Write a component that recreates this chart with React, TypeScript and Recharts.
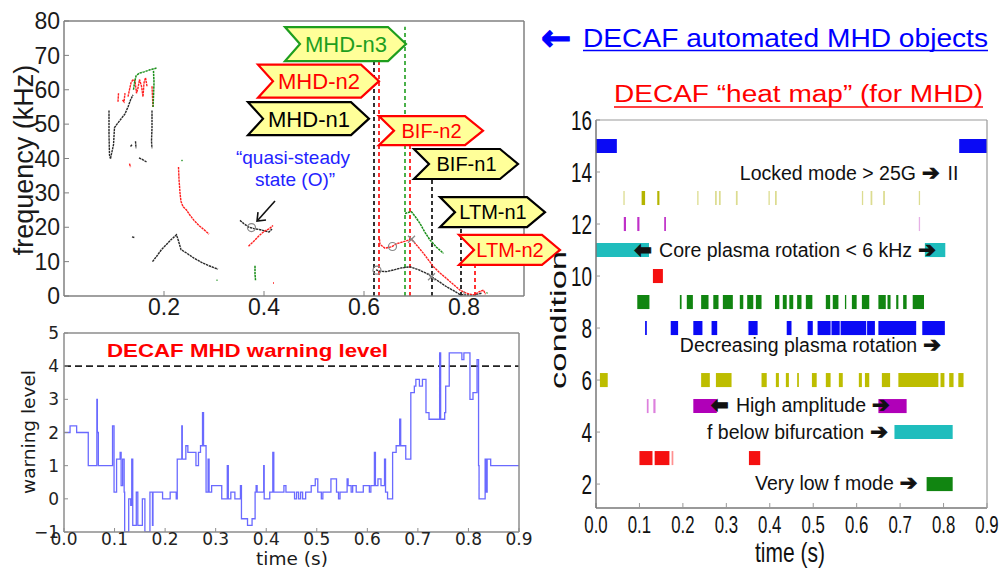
import React from 'react';
import {
  ComposedChart,
  LineChart,
  Line,
  XAxis,
  YAxis,
  ReferenceLine,
  ReferenceDot,
  ReferenceArea,
} from 'recharts';

type Pt = [number, number];
type Seg = [number, number];

/* ---------------- Top-left: automated MHD objects (time s, frequency kHz) ---------------- */
const blackTraces: Pt[][] = [
  [[0.090, 54], [0.090, 47], [0.091, 41], [0.093, 40]],
  [[0.093, 40], [0.096, 42], [0.099, 44], [0.101, 49], [0.106, 50], [0.114, 51.5], [0.122, 53], [0.128, 55], [0.133, 57], [0.138, 58.5]],
  [[0.176, 54], [0.176, 49], [0.175, 45], [0.176, 43]],
  [[0.133, 43.5], [0.136, 44]],
  [[0.143, 45], [0.144, 43]],
  [[0.150, 40.2], [0.158, 39.6], [0.165, 39]],
  [[0.136, 17.2], [0.141, 17]],
  [[0.177, 10], [0.185, 11.5], [0.195, 13.5], [0.205, 15], [0.215, 16.5], [0.225, 17.8], [0.229, 16], [0.234, 13.5], [0.245, 12.5], [0.26, 11], [0.275, 9.8], [0.29, 8.8], [0.308, 7.8]],
  [[0.352, 22], [0.36, 21], [0.37, 20], [0.38, 19.6], [0.395, 19.2], [0.41, 18.6], [0.416, 19.5]],
  [[0.624, 7.6], [0.632, 7.2], [0.645, 7.1], [0.66, 7.6], [0.672, 8.1], [0.692, 8.5], [0.71, 7.6], [0.725, 6.6], [0.735, 5.6], [0.75, 4.2], [0.765, 2.7], [0.78, 1.5], [0.792, 0.4], [0.805, 0.3], [0.819, 0.3], [0.835, 0.8]],
];
const redTraces: Pt[][] = [
  [[0.108, 56.5], [0.109, 59]],
  [[0.117, 57], [0.12, 56.5], [0.122, 59]],
  [[0.128, 58], [0.131, 60], [0.134, 62], [0.138, 63], [0.142, 62.5], [0.145, 59], [0.148, 60.5], [0.151, 63], [0.155, 61], [0.158, 58], [0.16, 62], [0.163, 63.5], [0.166, 61]],
  [[0.176, 61], [0.177, 58], [0.178, 55]],
  [[0.131, 38.5], [0.133, 37.5]],
  [[0.229, 37.5], [0.230, 34], [0.232, 30], [0.234, 27.5], [0.238, 26], [0.245, 25], [0.252, 23.5], [0.26, 22], [0.27, 20.5], [0.28, 19.3], [0.29, 18]],
  [[0.369, 14.5], [0.38, 16], [0.39, 17.5], [0.40, 18.8], [0.41, 19.5], [0.418, 20.5]],
  [[0.418, 3.8], [0.420, 3.8]],
  [[0.631, 16.5], [0.632, 15], [0.642, 13.9], [0.655, 14.3], [0.665, 15.2], [0.679, 15.8], [0.695, 16.5], [0.707, 14.5], [0.719, 12.4], [0.739, 8.5], [0.752, 6.7], [0.765, 5.1], [0.78, 3.2], [0.792, 1.7], [0.805, 0.8], [0.819, 0.3], [0.83, 1.2], [0.839, 1.7], [0.843, 0.5]],
];
const greenTraces: Pt[][] = [
  [[0.139, 60], [0.141, 62], [0.144, 64], [0.15, 64.8], [0.16, 65.2], [0.172, 65.8], [0.185, 66.3]],
  [[0.179, 65.5], [0.18, 62], [0.179, 58], [0.178, 55]],
  [[0.235, 39.3], [0.237, 39.5]],
  [[0.305, 4.6], [0.307, 4.6]],
  [[0.382, 8.8], [0.382, 6.5], [0.383, 4.6]],
  [[0.682, 24], [0.688, 24.3], [0.695, 24.5], [0.703, 23], [0.712, 21.1], [0.722, 18.5], [0.732, 16.3], [0.745, 14.2], [0.759, 12.4]],
  [[0.845, 0.8], [0.847, 1]],
];
const circleMarks: Pt[] = [[0.375, 19.9], [0.626, 7.5], [0.657, 14.4]];
const crossMarks: Pt[] = [[0.695, 16.5], [0.735, 5.6]];
const freqTicks = [0, 10, 20, 30, 40, 50, 60, 70, 80];
const topTimeTicks = [0.2, 0.4, 0.6, 0.8];

// object tags: left notch point (time, freq)
const tagLabels = ['MHD-n3', 'MHD-n2', 'MHD-n1', 'BIF-n2', 'BIF-n1', 'LTM-n1', 'LTM-n2'];
const tagColors = ['#1e9e1e', '#ff0000', '#000000', '#ff0000', '#000000', '#000000', '#ff0000'];
const tagTimes = [0.442, 0.388, 0.368, 0.630, 0.700, 0.752, 0.790];
const tagFreqs = [73.3, 62.5, 51.6, 48.1, 38.4, 24.4, 13.4];
const tagWidths = [121, 121, 121, 104, 104, 105, 101];
const tagHeights = [34, 33, 33, 29, 30, 30, 30];
const tagFont = [22, 22, 22, 20, 20, 20, 20];

// dashed object start lines: time, top frequency, colour
const objLineTimes = [0.620, 0.630, 0.682, 0.692, 0.736, 0.794, 0.822];
const objLineTops = [68.4, 68.4, 78.3, 43.9, 34.0, 20.0, 9.0];
const objLineColors = ['#000000', '#ff0000', '#1e9e1e', '#ff0000', '#000000', '#000000', '#ff0000'];

/* ---------------- Bottom-left: DECAF MHD warning level ---------------- */
const warningSteps: Pt[] = [
  [0, 2.0], [0.012, 2.2], [0.025, 2.0], [0.048, 1.0], [0.065, 3.0], [0.066, 2.0], [0.068, 1.0], [0.096, 2.2], [0.099, 0.2], [0.104, 1.2],
  [0.111, 1.4], [0.113, 0.4], [0.116, 1.2], [0.119, 0.2], [0.120, -1.0], [0.128, 0.0], [0.132, -0.2], [0.134, 1.2], [0.136, -0.8], [0.143, 0.2],
  [0.146, -0.8], [0.155, 0.0], [0.160, -1.0], [0.170, 0.2], [0.175, -0.8], [0.176, 0.2], [0.195, 0.0], [0.210, 0.2], [0.222, 0.0], [0.224, 1.2],
  [0.233, 2.2], [0.234, 1.2], [0.241, 1.6], [0.245, 1.4], [0.261, 1.0], [0.266, 1.4], [0.270, 1.6], [0.274, 2.6], [0.276, 1.6], [0.281, 0.2],
  [0.285, 1.2], [0.287, 0.2], [0.292, 0.4], [0.312, 0.0], [0.323, 1.0], [0.325, 0.0], [0.330, 0.2], [0.338, 0.0], [0.349, 0.4], [0.351, -0.6],
  [0.363, -0.8], [0.372, -0.6], [0.378, 0.2], [0.380, 0.4], [0.382, 0.2], [0.395, 1.0], [0.396, 0.0], [0.407, 0.2], [0.413, 1.4], [0.415, 0.2],
  [0.435, 0.4], [0.439, 0.2], [0.456, 0.0], [0.460, 0.2], [0.464, 0.0], [0.468, 0.2], [0.472, 0.0], [0.478, 0.2], [0.489, 0.4], [0.497, 0.6],
  [0.502, 0.2], [0.509, 0.0], [0.512, 0.2], [0.528, 0.6], [0.539, 0.2], [0.543, 0.0], [0.546, 0.2], [0.560, 0.6], [0.562, 0.4], [0.568, 0.2],
  [0.571, 0.4], [0.578, 0.2], [0.592, 0.4], [0.604, 0.2], [0.607, 0.4], [0.614, 1.4], [0.616, 0.4], [0.621, 0.6], [0.627, 0.4], [0.634, 1.2],
  [0.636, 0.2], [0.640, 0.0], [0.650, 1.4], [0.657, 1.6], [0.664, 2.4], [0.666, 1.6], [0.676, 1.2], [0.686, 3.2], [0.693, 3.4], [0.696, 3.6],
  [0.703, 3.4], [0.709, 3.6], [0.716, 2.6], [0.722, 2.4], [0.743, 4.4], [0.745, 2.4], [0.753, 2.6], [0.755, 3.4], [0.762, 4.4], [0.787, 4.2],
  [0.791, 4.4], [0.803, 3.0], [0.809, 3.2], [0.817, 4.2], [0.820, 1.0], [0.821, 0.0], [0.833, 1.2], [0.835, 0.2], [0.837, 1.2], [0.844, 1.0],
  [0.9, 1.0],
];
const warningTicks = [-1, 0, 1, 2, 3, 4, 5];
const timeTicks = [0, 0.1, 0.2, 0.3, 0.4, 0.5, 0.6, 0.7, 0.8, 0.9];
const warningThreshold = 4;

/* ---------------- Right: DECAF heat map (time intervals per condition) ---------------- */
const cond15: Seg[] = [[0, 0.048], [0.836, 0.9]];
const cond13Dark: Seg[] = [[0.105, 0.113], [0.141, 0.146]];
const cond13Pale: Seg[] = [[0.063, 0.066], [0.233, 0.236], [0.274, 0.278], [0.283, 0.287], [0.322, 0.326], [0.397, 0.400], [0.412, 0.416], [0.612, 0.615], [0.632, 0.636], [0.661, 0.665], [0.743, 0.746]];
const cond12: Seg[] = [[0.064, 0.069], [0.095, 0.100], [0.157, 0.161]];
const cond12Pale: Seg[] = [[0.743, 0.746]];
const cond11: Seg[] = [[0, 0.122], [0.757, 0.804]];
const cond10: Seg[] = [[0.131, 0.154]];
const cond9: Seg[] = [[0.095, 0.123], [0.193, 0.197], [0.209, 0.223], [0.242, 0.259], [0.270, 0.282], [0.292, 0.315], [0.331, 0.339], [0.348, 0.362], [0.368, 0.381], [0.412, 0.422], [0.430, 0.439], [0.445, 0.454], [0.463, 0.473], [0.483, 0.498], [0.529, 0.539], [0.545, 0.558], [0.573, 0.576], [0.589, 0.600], [0.612, 0.629], [0.650, 0.667], [0.671, 0.678], [0.691, 0.696], [0.707, 0.715], [0.729, 0.755]];
const cond8: Seg[] = [[0.113, 0.117], [0.172, 0.189], [0.224, 0.245], [0.266, 0.279], [0.351, 0.372], [0.439, 0.450], [0.487, 0.499], [0.510, 0.540], [0.542, 0.561], [0.563, 0.622], [0.624, 0.642], [0.650, 0.737], [0.751, 0.803]];
const cond6: Seg[] = [[0.009, 0.027], [0.242, 0.262], [0.276, 0.312], [0.381, 0.393], [0.414, 0.421], [0.437, 0.444], [0.463, 0.467], [0.497, 0.508], [0.529, 0.540], [0.559, 0.568], [0.605, 0.612], [0.619, 0.629], [0.658, 0.677], [0.696, 0.788], [0.793, 0.802], [0.813, 0.823], [0.834, 0.846]];
const cond5: Seg[] = [[0.224, 0.278], [0.650, 0.715]];
const cond5Pale: Seg[] = [[0.117, 0.121], [0.132, 0.137]];
const cond4: Seg[] = [[0.687, 0.821]];
const cond3: Seg[] = [[0.100, 0.130], [0.135, 0.169], [0.352, 0.378]];
const cond3Pale: Seg[] = [[0.174, 0.178]];
const cond2: Seg[] = [[0.761, 0.821]];
const condTicks = [2, 4, 6, 8, 10, 12, 14, 16];

const heatTable: { row: number; color: string; segs: Seg[] }[] = [
  { row: 15, color: '#0a0af5', segs: cond15 },
  { row: 13, color: '#dcdc90', segs: cond13Pale },
  { row: 13, color: '#b4b400', segs: cond13Dark },
  { row: 12, color: '#c030c8', segs: cond12 },
  { row: 12, color: '#e6b0e6', segs: cond12Pale },
  { row: 11, color: '#1fbdbd', segs: cond11 },
  { row: 10, color: '#f51010', segs: cond10 },
  { row: 9, color: '#118511', segs: cond9 },
  { row: 8, color: '#0a0af5', segs: cond8 },
  { row: 6, color: '#bdbd00', segs: cond6 },
  { row: 5, color: '#b000b8', segs: cond5 },
  { row: 5, color: '#dd80dd', segs: cond5Pale },
  { row: 4, color: '#1fbdbd', segs: cond4 },
  { row: 3, color: '#f51010', segs: cond3 },
  { row: 3, color: '#ff9090', segs: cond3Pale },
  { row: 2, color: '#118511', segs: cond2 },
];

const noteTexts = ['Locked mode > 25G', 'Core plasma rotation < 6 kHz', 'Decreasing plasma rotation', 'High amplitude', 'f below bifurcation', 'Very low f mode'];
const noteTimes = [0.331, 0.143, 0.193, 0.320, 0.2555, 0.366];
const noteRows = [13.96, 11.0, 7.35, 5.04, 4.0, 2.04];
const noteLeftArrow = [false, true, false, true, false, false];
const noteTail = ['II', '', '', '', '', ''];

const SANS = 'Liberation Sans, Arial, Helvetica, sans-serif';
const DJV = 'DejaVu Sans, Verdana, sans-serif';

const toObj = (pts: Pt[]) => pts.map(([t, v]) => ({ t, v }));

function Tag({ cx, cy, i }: { cx: number; cy: number; i: number }) {
  const w = tagWidths[i];
  const h = tagHeights[i];
  const notch = 15;
  const tip = 18;
  const y0 = cy - h / 2;
  const y1 = cy + h / 2;
  const pts = `${cx},${y0} ${cx + w - tip},${y0} ${cx + w},${cy} ${cx + w - tip},${y1} ${cx},${y1} ${cx + notch},${cy}`;
  return (
    <g>
      <polygon points={pts} fill="#ffff99" stroke={tagColors[i]} strokeWidth={2.2} />
      <text x={cx + (w + notch) / 2 - 7} y={cy} dy="0.36em" textAnchor="middle" fontSize={tagFont[i]} fill={tagColors[i]} fontFamily={SANS}>
        {tagLabels[i]}
      </text>
    </g>
  );
}

function TopLeft() {
  const axisStroke = { stroke: '#808080', strokeWidth: 1.5 };
  const dash = '2.4 0.7';
  return (
    <ComposedChart width={580} height={330} margin={{ top: 0, right: 40, bottom: 0, left: 0 }}>
      <XAxis type="number" dataKey="t" domain={[0, 0.92]} ticks={topTimeTicks} allowDataOverflow height={34}
        tickSize={-5} tickMargin={8} axisLine={axisStroke} tickLine={{ stroke: '#808080' }}
        tick={{ fontSize: 23, fill: '#1a1a1a', fontFamily: SANS }} tickFormatter={(v: number) => v.toFixed(1)} />
      <XAxis xAxisId="top" orientation="top" type="number" domain={[0, 0.92]} ticks={[0.1, 0.2, 0.3, 0.4, 0.5, 0.6, 0.7, 0.8, 0.9]} allowDataOverflow height={21}
        tickSize={-4} tick={false} axisLine={axisStroke} tickLine={{ stroke: '#808080' }} />
      <YAxis type="number" domain={[0, 80]} ticks={freqTicks} allowDataOverflow width={64}
        tickSize={-5} tickMargin={9} axisLine={axisStroke} tickLine={{ stroke: '#808080' }}
        tick={{ fontSize: 23, fill: '#1a1a1a', fontFamily: SANS }} />
      <YAxis yAxisId="right" orientation="right" type="number" domain={[0, 80]} ticks={freqTicks} allowDataOverflow width={16}
        tickSize={-4} tick={false} axisLine={axisStroke} tickLine={{ stroke: '#808080' }} />
      {objLineTimes.map((t, i) => (
        <ReferenceLine key={'ol' + i} segment={[{ x: t, y: 0 }, { x: t, y: objLineTops[i] }]} stroke={objLineColors[i]} strokeWidth={1.6} strokeDasharray="4 3" />
      ))}
      {blackTraces.map((s, i) => (
        <Line key={'b' + i} data={toObj(s)} dataKey="v" type="linear" stroke="#2a2a2a" strokeWidth={1.4} strokeDasharray={dash} dot={false} isAnimationActive={false} />
      ))}
      {redTraces.map((s, i) => (
        <Line key={'r' + i} data={toObj(s)} dataKey="v" type="linear" stroke="#ff2020" strokeWidth={1.4} strokeDasharray={dash} dot={false} isAnimationActive={false} />
      ))}
      {greenTraces.map((s, i) => (
        <Line key={'g' + i} data={toObj(s)} dataKey="v" type="linear" stroke="#1a8f1a" strokeWidth={1.5} strokeDasharray={dash} dot={false} isAnimationActive={false} />
      ))}
      {circleMarks.map(([t, f], i) => (
        <ReferenceDot key={'c' + i} x={t} y={f} r={4} fill="none" stroke="#888" strokeWidth={1.2} />
      ))}
      {crossMarks.map(([t, f], i) => (
        <ReferenceDot key={'x' + i} x={t} y={f} r={3}
          shape={(p: any) => (
            <g stroke="#888" strokeWidth={1.2}>
              <line x1={p.cx - 3.5} y1={p.cy - 3.5} x2={p.cx + 3.5} y2={p.cy + 3.5} />
              <line x1={p.cx - 3.5} y1={p.cy + 3.5} x2={p.cx + 3.5} y2={p.cy - 3.5} />
            </g>
          )} />
      ))}
      <ReferenceDot x={0.386} y={21.8} r={2}
        shape={(p: any) => (
          <g stroke="#111" strokeWidth={1.6} fill="none">
            <line x1={p.cx + 18} y1={p.cy - 20} x2={p.cx + 1} y2={p.cy - 1} />
            <polyline points={`${p.cx + 9},${p.cy - 1} ${p.cx},${p.cy} ${p.cx + 1},${p.cy - 9}`} />
          </g>
        )} />
      <ReferenceDot x={0.458} y={35.8} r={2}
        shape={(p: any) => (
          <text x={p.cx} y={p.cy} textAnchor="middle" fontSize={19} fill="#2323ff" fontFamily={SANS}>
            <tspan x={p.cx} dy={-9}>“quasi-steady</tspan>
            <tspan x={p.cx + 2} dy={22}>state (O)”</tspan>
          </text>
        )} />
      {tagLabels.map((_, i) => (
        <ReferenceDot key={'tag' + i} x={tagTimes[i]} y={tagFreqs[i]} r={2} ifOverflow="visible"
          shape={(p: any) => <Tag cx={p.cx} cy={p.cy} i={i} />} />
      ))}
    </ComposedChart>
  );
}

function BottomLeft() {
  const axisStroke = { stroke: '#8c8c8c', strokeWidth: 1.5 };
  return (
    <LineChart width={540} height={259} data={toObj(warningSteps)} margin={{ top: 0, right: 0, bottom: 0, left: 0 }}>
      <XAxis type="number" dataKey="t" domain={[0, 0.9]} ticks={timeTicks} allowDataOverflow height={37}
        tickSize={-4} tickMargin={5} axisLine={axisStroke} tickLine={{ stroke: '#8c8c8c' }}
        tick={{ fontSize: 17, fill: '#222', fontFamily: DJV }} tickFormatter={(v: number) => v.toFixed(1)} />
      <XAxis xAxisId="top" orientation="top" type="number" domain={[0, 0.9]} ticks={timeTicks} allowDataOverflow height={23}
        tickSize={-4} tick={false} axisLine={axisStroke} tickLine={{ stroke: '#8c8c8c' }} />
      <YAxis type="number" domain={[-1, 5]} ticks={warningTicks} allowDataOverflow width={64}
        tickSize={-4} tickMargin={9} axisLine={axisStroke} tickLine={{ stroke: '#8c8c8c' }}
        tick={{ fontSize: 17, fill: '#222', fontFamily: DJV }} tickFormatter={(v: number) => (v < 0 ? '\u2212' + Math.abs(v) : String(v))} />
      <YAxis yAxisId="right" orientation="right" type="number" domain={[-1, 5]} ticks={warningTicks} allowDataOverflow width={21}
        tickSize={-4} tick={false} axisLine={axisStroke} tickLine={{ stroke: '#8c8c8c' }} />
      <ReferenceLine y={warningThreshold} stroke="#222" strokeWidth={1.8} strokeDasharray="7 4" />
      <Line dataKey="v" type="stepAfter" stroke="#6a6aff" strokeWidth={1.3} dot={false} isAnimationActive={false} />
    </LineChart>
  );
}

function NarrowXTick(props: any) {
  const { x, y, payload } = props;
  return (
    <g transform={`translate(${x},${y}) scale(0.7,1)`}>
      <text textAnchor="middle" dy="0.72em" fontSize={24} fill="#111" fontFamily={SANS}>{Number(payload.value).toFixed(1)}</text>
    </g>
  );
}
function NarrowYTick(props: any) {
  const { x, y, payload } = props;
  return (
    <g transform={`translate(${x},${y}) scale(0.7,1)`}>
      <text textAnchor="end" dy="0.36em" fontSize={27} fill="#111" fontFamily={SANS}>{payload.value}</text>
    </g>
  );
}

function HeatMap() {
  const axisStroke = { stroke: '#777', strokeWidth: 1.5 };
  const half = 0.27;
  return (
    <ComposedChart width={460} height={469} margin={{ top: 0, right: 0, bottom: 0, left: 0 }}>
      <XAxis type="number" dataKey="t" domain={[0, 0.9]} ticks={timeTicks} allowDataOverflow height={61}
        tickSize={-5} tickMargin={13} axisLine={axisStroke} tickLine={{ stroke: '#999' }} tick={<NarrowXTick />} />
      <XAxis xAxisId="top" orientation="top" type="number" domain={[0, 0.9]} ticks={timeTicks} allowDataOverflow height={20}
        tickSize={-4} tick={false} axisLine={{ stroke: '#999', strokeWidth: 1.2 }} tickLine={{ stroke: '#999' }} />
      <YAxis type="number" domain={[1.08, 16]} ticks={condTicks} allowDataOverflow width={56}
        tickSize={-4} tickMargin={8} axisLine={axisStroke} tickLine={{ stroke: '#999' }} tick={<NarrowYTick />} />
      <YAxis yAxisId="right" orientation="right" type="number" domain={[1.08, 16]} ticks={condTicks} allowDataOverflow width={13}
        tickSize={-4} tick={false} axisLine={{ stroke: '#999', strokeWidth: 1.2 }} tickLine={{ stroke: '#999' }} />
      {heatTable.flatMap((r, ri) =>
        r.segs.map(([s, e], si) => (
          <ReferenceArea key={`h${ri}-${si}`} x1={s} x2={e} y1={r.row - half} y2={r.row + half} fill={r.color} fillOpacity={1} stroke="none" />
        )),
      )}
      {noteTexts.map((txt, i) => (
        <ReferenceDot key={'n' + i} x={noteTimes[i]} y={noteRows[i]} r={1}
          shape={(p: any) => (
            <text x={p.cx} y={p.cy} dy="0.36em" fontSize={19.5} fill="#111" fontFamily={SANS}>
              {noteLeftArrow[i] ? (
                <tspan fontFamily={DJV} fontSize={21} fontWeight="bold" stroke="#111" strokeWidth={1} dx={-24}>⬅ </tspan>
              ) : null}
              <tspan>{txt}</tspan>
              <tspan fontFamily={DJV} fontSize={21} fontWeight="bold" stroke="#111" strokeWidth={1} dx={6}>➔</tspan>
              {noteTail[i] ? <tspan dx={8}>{noteTail[i]}</tspan> : null}
            </text>
          )} />
      ))}
    </ComposedChart>
  );
}

export default function App() {
  return (
    <div style={{ position: 'absolute', left: 0, top: 0, width: 1000, height: 569, background: '#fff', overflow: 'hidden' }}>
      <div style={{ position: 'absolute', left: 0, top: 310 }}>
        <BottomLeft />
      </div>
      <div style={{ position: 'absolute', left: 540, top: 100 }}>
        <HeatMap />
      </div>
      <div style={{ position: 'absolute', left: 0, top: 0 }}>
        <TopLeft />
      </div>
      <svg width={1000} height={569} style={{ position: 'absolute', left: 0, top: 0, pointerEvents: 'none' }}>
        <text x={541} y={50} fontSize={36} fontWeight="bold" fill="#0000ff" stroke="#0000ff" strokeWidth={1.2} fontFamily={DJV}>←</text>
        <text x={583} y={47} fontSize={25} fill="#0000ff" fontFamily={SANS} textLength={405} lengthAdjust="spacingAndGlyphs">DECAF automated MHD objects</text>
        <line x1={583} x2={988} y1={50.5} y2={50.5} stroke="#0000ff" strokeWidth={1.6} />
        <text x={614} y={102} fontSize={23.5} fill="#ff0000" fontFamily={SANS} textLength={369} lengthAdjust="spacingAndGlyphs">DECAF “heat map” (for MHD)</text>
        <line x1={614} x2={983} y1={107} y2={107} stroke="#ff0000" strokeWidth={1.6} />
        <text transform="translate(33,160) rotate(-90)" textAnchor="middle" fontSize={27} fill="#1a1a1a" fontFamily={SANS}>frequency (kHz)</text>
        <text transform="translate(35,432) rotate(-90)" textAnchor="middle" fontSize={18.5} fill="#1a1a1a" fontFamily={DJV}>warning level</text>
        <text x={292} y={565} textAnchor="middle" fontSize={18.5} fill="#1a1a1a" fontFamily={DJV}>time (s)</text>
        <text x={107} y={357} fontSize={19} fontWeight="bold" fill="#ff0000" fontFamily={SANS} textLength={281} lengthAdjust="spacingAndGlyphs">DECAF MHD warning level</text>
        <text transform="translate(790,562) scale(0.75,1)" textAnchor="middle" fontSize={28} fill="#111" fontFamily={SANS}>time (s)</text>
        <text transform="translate(566,320) rotate(-90)" textAnchor="middle" fontSize={22} fill="#111" fontFamily={SANS} textLength={138} lengthAdjust="spacingAndGlyphs">condition</text>
      </svg>
    </div>
  );
}
